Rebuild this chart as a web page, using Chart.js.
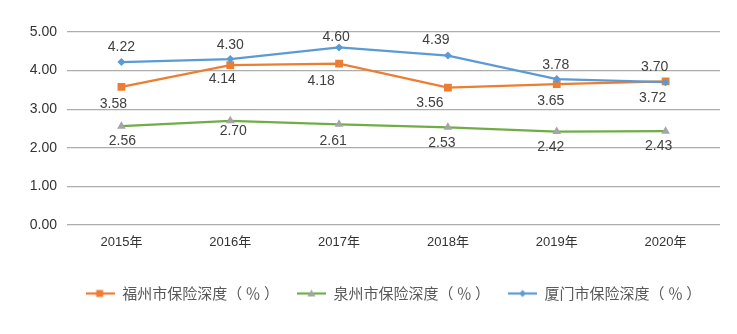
<!DOCTYPE html>
<html lang="zh-CN">
<head>
    <meta charset="UTF-8">
    <title>保险深度</title>
    <script src="https://cdn.jsdelivr.net/npm/chart.js"></script>
    <style>
        html, body {
            margin: 0;
            padding: 0;
            background: #ffffff;
        }
        .chart-container {
            width: 737px;
            height: 334px;
        }
    </style>
</head>
<body>
    <div class="chart-container">
        <canvas id="myChart"></canvas>
    </div>

    <script>
        const years = ['2015年', '2016年', '2017年', '2018年', '2019年', '2020年'];
        const seriesNames = ['福州市保险深度（ ％ ）', '泉州市保险深度（ ％ ）', '厦门市保险深度（ ％ ）'];
        const fuzhou = [3.58, 4.14, 4.18, 3.56, 3.65, 3.72];
        const quanzhou = [2.56, 2.70, 2.61, 2.53, 2.42, 2.43];
        const xiamen = [4.22, 4.30, 4.60, 4.39, 3.78, 3.70];

        // where each value label sits relative to its point (px)
        const labelShift = [
            [[-8, 17], [-8, 14], [-18, 17], [-18, 16], [-6, 17], [-13, 17]],
            [[1, 15], [3, 10], [-6, 17], [-6, 16], [-6, 16], [-7, 15]],
            [[0, -15], [0, -14], [-3, -10], [-12, -15], [-1, -14], [-11, -15]]
        ];

        const orange = '#ED7D31';
        const green = '#70AD47';
        const grey = '#A5A5A5';
        const blue = '#5B9BD5';
        const textFont = '"Liberation Sans", Arial, "Noto Sans CJK SC", sans-serif';

        // small line + marker icon for legend entries
        function legendIcon(lineColor, markColor, shape) {
            const c = document.createElement('canvas');
            c.width = 29;
            c.height = 12;
            const g = c.getContext('2d');
            g.strokeStyle = lineColor;
            g.lineWidth = 2.25;
            g.beginPath();
            g.moveTo(0, 6);
            g.lineTo(29, 6);
            g.stroke();
            g.fillStyle = markColor;
            g.beginPath();
            if (shape === 'rect') {
                g.rect(10.5, 2.5, 7, 7);
            } else if (shape === 'triangle') {
                g.moveTo(14.5, 2);
                g.lineTo(18.5, 9);
                g.lineTo(10.5, 9);
                g.closePath();
            } else {
                g.moveTo(14.5, 2.5);
                g.lineTo(18, 6);
                g.lineTo(14.5, 9.5);
                g.lineTo(11, 6);
                g.closePath();
            }
            g.fill();
            return c;
        }

        const icons = [
            legendIcon(orange, orange, 'rect'),
            legendIcon(green, grey, 'triangle'),
            legendIcon(blue, blue, 'diamond')
        ];

        const valueLabels = {
            id: 'valueLabels',
            afterDatasetsDraw(chart) {
                const ctx = chart.ctx;
                ctx.save();
                ctx.font = '14px ' + textFont;
                ctx.fillStyle = '#404040';
                ctx.textAlign = 'center';
                ctx.textBaseline = 'middle';
                chart.data.datasets.forEach((ds, i) => {
                    const meta = chart.getDatasetMeta(i);
                    meta.data.forEach((pt, j) => {
                        const s = labelShift[i][j];
                        ctx.fillText(ds.data[j].toFixed(2), pt.x + s[0], pt.y + s[1]);
                    });
                });
                ctx.restore();
            }
        };

        const ctx = document.getElementById('myChart').getContext('2d');
        new Chart(ctx, {
            type: 'line',
            data: {
                labels: years,
                datasets: [
                    {
                        label: seriesNames[0],
                        data: fuzhou,
                        borderColor: orange,
                        backgroundColor: orange,
                        pointBackgroundColor: orange,
                        pointBorderWidth: 0,
                        pointStyle: 'rect',
                        pointRadius: 5.5,
                        borderWidth: 2.25,
                        order: 3
                    },
                    {
                        label: seriesNames[1],
                        data: quanzhou,
                        borderColor: green,
                        backgroundColor: grey,
                        pointBackgroundColor: grey,
                        pointBorderWidth: 0,
                        pointStyle: 'triangle',
                        pointRadius: 5,
                        borderWidth: 2.25,
                        order: 2
                    },
                    {
                        label: seriesNames[2],
                        data: xiamen,
                        borderColor: blue,
                        backgroundColor: blue,
                        pointBackgroundColor: blue,
                        pointBorderWidth: 0,
                        pointStyle: 'rectRot',
                        pointRadius: 4,
                        borderWidth: 2.25,
                        order: 1
                    }
                ]
            },
            options: {
                responsive: true,
                maintainAspectRatio: false,
                animation: false,
                layout: {
                    padding: { top: 32, right: 17, bottom: 23, left: 0 }
                },
                plugins: {
                    tooltip: { enabled: false },
                    legend: {
                        position: 'bottom',
                        fullSize: false,
                        labels: {
                            usePointStyle: true,
                            pointStyleWidth: 29,
                            padding: 18,
                            color: '#595959',
                            font: { size: 15, family: '"Noto Sans CJK SC", sans-serif' },
                            generateLabels(chart) {
                                return chart.data.datasets.map((ds, i) => ({
                                    text: ds.label,
                                    pointStyle: icons[i],
                                    fillStyle: ds.borderColor,
                                    strokeStyle: ds.borderColor,
                                    lineWidth: 0,
                                    fontColor: '#595959',
                                    hidden: false,
                                    datasetIndex: i
                                }));
                            }
                        }
                    }
                },
                scales: {
                    x: {
                        offset: true,
                        grid: { display: false, drawTicks: false },
                        border: { display: false },
                        ticks: {
                            padding: 10,
                            color: '#333333',
                            font: { size: 13, family: textFont }
                        },
                        afterFit(scale) {
                            scale.height = 43;
                        }
                    },
                    y: {
                        min: 0,
                        max: 5,
                        grid: { color: '#ADADAD', lineWidth: 1.3, drawTicks: false },
                        border: { display: false },
                        ticks: {
                            stepSize: 1,
                            padding: 10,
                            color: '#333333',
                            font: { size: 14, family: textFont },
                            callback: v => v.toFixed(2)
                        },
                        afterFit(scale) {
                            scale.width = 67;
                        }
                    }
                }
            },
            plugins: [valueLabels]
        });
    </script>
</body>
</html>
